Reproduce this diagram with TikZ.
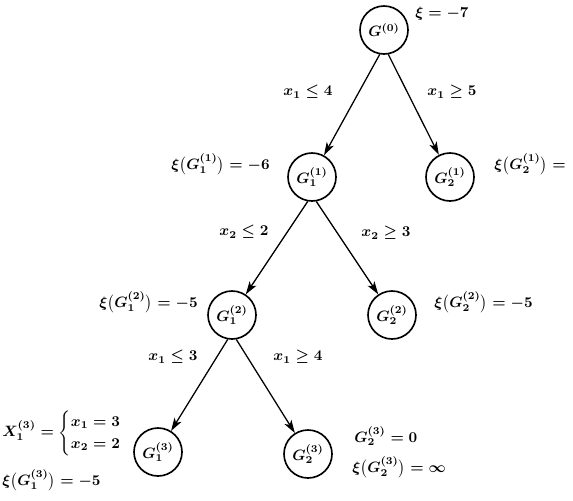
\documentclass[tikz,border=0pt]{standalone}
\usepackage{amsmath}
\usetikzlibrary{arrows.meta}
\begin{document}
\begin{tikzpicture}[x=0.6667pt,y=-0.6667pt,
  every node/.style={font=\boldmath},
  state/.style={circle,draw,line width=1.1pt,minimum size=32pt,inner sep=0pt},
  edge/.style={line width=0.85pt,-{Stealth[length=8.7pt,width=5.4pt,inset=2.3pt]}},
  lbl/.style={inner sep=0pt}]
\useasboundingbox (0,0) rectangle (573,500);
% tree nodes
\node[state] (g0)  at (384,30)  {$G^{(0)}$};
\node[state] (g11) at (312,177) {$G_1^{(1)}$};
\node[state] (g21) at (450,177) {$G_2^{(1)}$};
\node[state] (g12) at (232,315) {$G_1^{(2)}$};
\node[state] (g22) at (392,315) {$G_2^{(2)}$};
\node[state] (g13) at (158,452) {$G_1^{(3)}$};
\node[state] (g23) at (308,454) {$G_2^{(3)}$};
% edges
\draw[edge] (g0.-100) -- (g11);
\draw[edge] (g0.-80) -- (g21);
\draw[edge] (g11.-100) -- (g12);
\draw[edge] (g11.-80) -- (g22);
\draw[edge] (g12.-100) -- (g13);
\draw[edge] (g12.-80) -- (g23);
% labels
\node[lbl] (xi0) at (442,14) {$\xi = -7$};
\node[lbl] (e1) at (308,92) {$x_1 \le 4$};
\node[lbl] (e2) at (452,92) {$x_1 \ge 5$};
\node[lbl,anchor=east] (xi11) at (270,164) {$\xi\bigl(G_1^{(1)}\bigr) = -6$};
\node[lbl,anchor=west] (xi21) at (494,164) {$\xi\bigl(G_2^{(1)}\bigr) =$};
\node[lbl] (e3) at (244,232) {$x_2 \le 2$};
\node[lbl] (e4) at (386,233) {$x_2 \ge 3$};
\node[lbl,anchor=east] (xi12) at (198,302) {$\xi\bigl(G_1^{(2)}\bigr) = -5$};
\node[lbl,anchor=west] (xi22) at (434,302) {$\xi\bigl(G_2^{(2)}\bigr) = -5$};
\node[lbl] (e5) at (173,357) {$x_1 \le 3$};
\node[lbl] (e6) at (298,357) {$x_1 \ge 4$};
\node[lbl,anchor=west] (x13) at (2,433) {$X_1^{(3)} = \begin{cases} x_1 = 3\\ x_2 = 2\end{cases}$};
\node[lbl,anchor=west] (xi13) at (2,480) {$\xi\bigl(G_1^{(3)}\bigr) = -5$};
\node[lbl,anchor=west] (g23v) at (354,436) {$G_2^{(3)} = 0$};
\node[lbl,anchor=west] (xi23) at (352,467) {$\xi\bigl(G_2^{(3)}\bigr) = \infty$};
\end{tikzpicture}
\end{document}
